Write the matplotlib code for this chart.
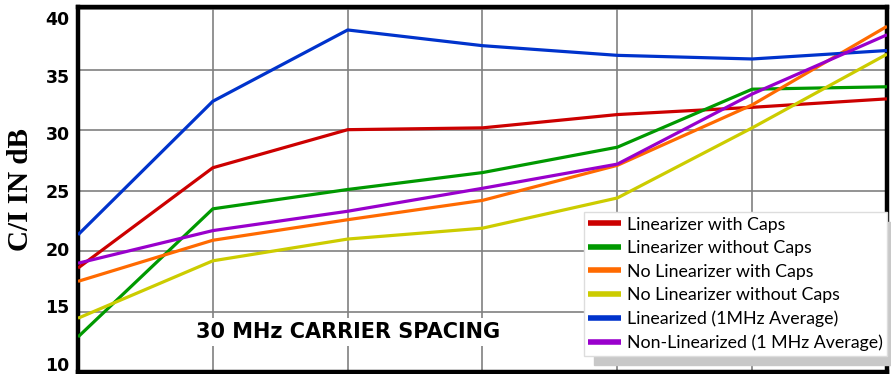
import matplotlib
matplotlib.use("Agg")
import matplotlib.pyplot as plt

# Carrier position index (7 measurement points across the band)
positions = [0, 1, 2, 3, 4, 5, 6]

lin_caps = [18.6, 26.9, 30.05, 30.2, 31.3, 31.9, 32.6]
lin_nocaps = [12.9, 23.5, 25.1, 26.5, 28.6, 33.4, 33.6]
nolin_caps = [17.5, 20.9, 22.6, 24.2, 27.1, 32.1, 38.6]
nolin_nocaps = [14.45, 19.2, 21.0, 21.9, 24.4, 30.2, 36.3]
lin_avg = [21.35, 32.4, 38.3, 37.0, 36.2, 35.9, 36.6]
nonlin_avg = [19.0, 21.7, 23.3, 25.2, 27.2, 33.0, 37.9]

series_labels = [
    "Linearizer with Caps",
    "Linearizer without Caps",
    "No Linearizer with Caps",
    "No Linearizer without Caps",
    "Linearized (1MHz Average)",
    "Non-Linearized (1 MHz Average)",
]
series_colors = ["#cc0000", "#009900", "#ff6a00", "#cccc00", "#0033cc", "#9900cc"]
y_ticks = [10, 15, 20, 25, 30, 35, 40]

W, H = 891, 374
fig = plt.figure(figsize=(W / 100, H / 100), dpi=100)
ax = fig.add_axes([78 / W, 2 / H, 809 / W, 365 / H])

all_series = [lin_caps, lin_nocaps, nolin_caps, nolin_nocaps, lin_avg, nonlin_avg]
for vals, lab, col in zip(all_series, series_labels, series_colors):
    ax.plot(positions, vals, color=col, lw=2.3, label=lab, solid_capstyle="butt", zorder=3)

ax.set_xlim(0, 6)
ax.set_ylim(10, 40.2)
ax.set_xticks([1, 2, 3, 4, 5])
ax.set_xticklabels([])
ax.set_yticks(y_ticks)
ax.set_yticklabels([])
ax.tick_params(axis="both", length=0)

ax.grid(True, color="#808080", lw=1.2, zorder=1)
for s in ax.spines.values():
    s.set_linewidth(3.2)
    s.set_color("black")

# Value scale printed beside the frame on its own, slightly compressed, axis
lab_ax = fig.add_axes([78 / W, 10 / H, 0.001, (365 - 19) / H])
lab_ax.set_ylim(10, 40)
lab_ax.set_yticks(y_ticks)
lab_ax.set_yticklabels([str(v) for v in y_ticks], fontsize=12.5, fontweight="bold",
                       family="DejaVu Sans")
lab_ax.tick_params(axis="y", length=0, pad=6)
lab_ax.set_xticks([])
for s in lab_ax.spines.values():
    s.set_visible(False)
lab_ax.patch.set_visible(False)

fig.text(21 / W, 1 - 190 / H, "C/I IN dB", rotation=90, fontsize=21, fontweight="bold",
         family="Liberation Serif", ha="center", va="center")

ax.text(2.0, 13.3, "30 MHz CARRIER SPACING", fontsize=15, fontweight="bold",
        family="DejaVu Sans", ha="center", va="center", zorder=2,
        bbox=dict(facecolor="white", edgecolor="none", pad=3))

leg = ax.legend(loc="lower right", bbox_to_anchor=(1.0, 0.045),
                prop={"family": "Lato", "size": 12.8}, frameon=True, fancybox=False,
                shadow={"ox": 7, "oy": -7, "color": "#c8c8c8", "alpha": 1},
                handlelength=1.85, handletextpad=0.3, labelspacing=0.42,
                borderpad=0.25, borderaxespad=0.0)
leg.get_frame().set_edgecolor("#dddddd")
leg.get_frame().set_linewidth(1.0)
for h in leg.get_lines():
    h.set_linewidth(4)
leg.set_zorder(5)

fig.savefig("out.png", dpi=100)
